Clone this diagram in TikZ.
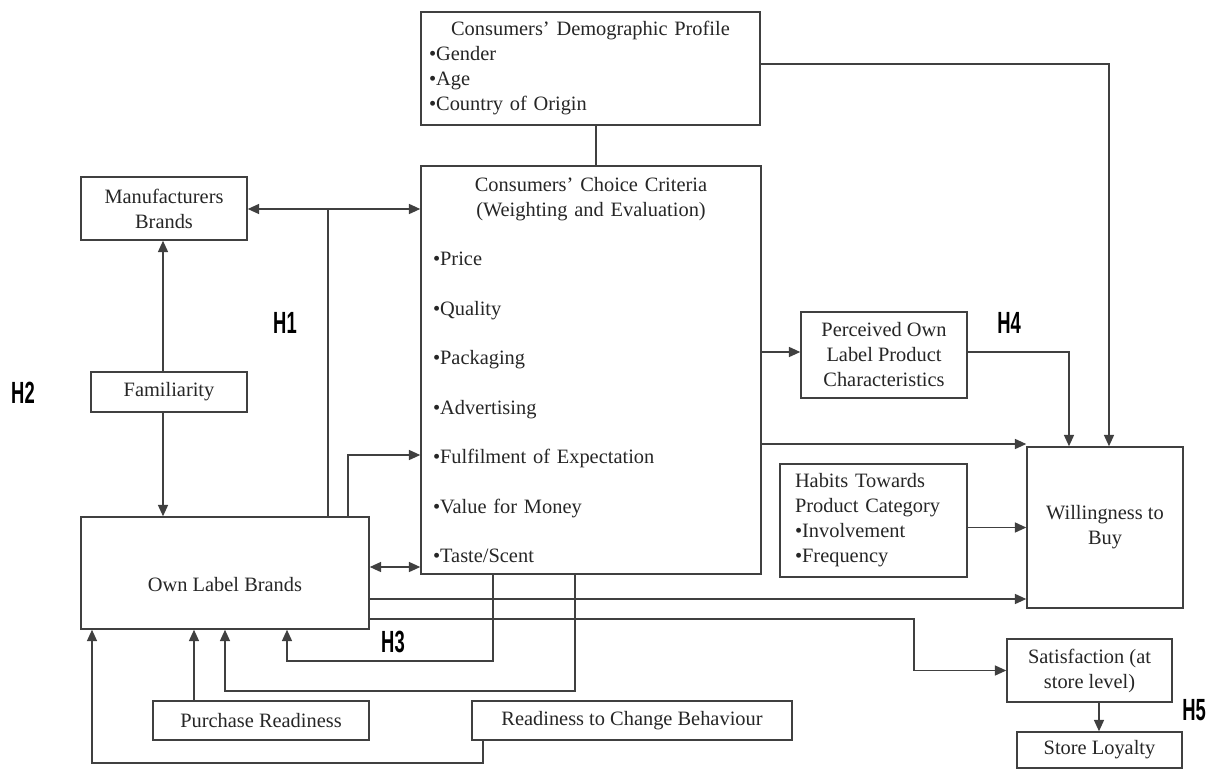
\documentclass[tikz,border=0pt]{standalone}
\usepackage{fontspec}
\setmainfont{Liberation Serif}
\newfontfamily\hfont{Liberation Sans}
\usetikzlibrary{arrows.meta}
\begin{document}
\begin{tikzpicture}[x=0.75pt,y=-0.75pt,
  every node/.style={inner sep=0pt, text=black!85, font=\fontsize{15.3}{18.75}\selectfont},
  box/.style={draw=black!75, line width=1.1pt, align=center},
  ln/.style={draw=black!75, line width=1.1pt},
  arr/.style={ln, -{Triangle[length=8.5pt,width=7.5pt]}},
  arrb/.style={ln, {Triangle[length=8.5pt,width=7.5pt]}-{Triangle[length=8.5pt,width=7.5pt]}},
  hlab/.style={font=\hfont\bfseries\fontsize{23}{23}\selectfont, text=black}]
\fill[white] (0,0) rectangle (1217,770);
\useasboundingbox (0,0) rectangle (1217,770);

% boxes
\node[box, minimum width=254.25pt, minimum height=84.75pt, text width=242.25pt, inner xsep=6pt, align=left] (demo) at (590.5,68.5)
  {\centering Consumers' Demographic Profile\par\raggedright\textbullet Gender\par\textbullet Age\par\textbullet Country of Origin};
\node[box, minimum width=255pt, minimum height=306pt, text width=237pt, inner xsep=9pt, align=left] (choice) at (591,370)
  {\centering Consumers' Choice Criteria\\(Weighting and Evaluation)\par
   \setlength{\parskip}{18.4pt}\raggedright
   \textbullet Price\par\textbullet Quality\par\textbullet Packaging\par\textbullet Advertising\par
   \textbullet Fulfilment of Expectation\par\textbullet Value for Money\par\textbullet Taste/Scent};
\node[box, minimum width=124.5pt, minimum height=47.25pt] (manu) at (164,208.5) {Manufacturers\\Brands};
\node[box, minimum width=117pt, minimum height=30pt] (fam) at (169,392) {Familiarity};
\node[box, minimum width=216pt, minimum height=84pt, text height=27pt, text depth=0pt] (own) at (225,573) {Own Label Brands};
\node[box, minimum width=162pt, minimum height=29.25pt] (purch) at (261,720.5) {Purchase Readiness};
\node[box, minimum width=240pt, minimum height=29.25pt] (ready) at (632,720.5) {Readiness to Change Behaviour};
\node[box, minimum width=124.5pt, minimum height=64.5pt] (perc) at (884,355) {Perceived Own\\Label Product\\Characteristics};
\node[box, minimum width=140.25pt, minimum height=84.75pt, text width=117.75pt, inner xsep=11.25pt, align=left] (habits) at (873.5,520.5)
  {Habits Towards\\Product Category\\\textbullet Involvement\\\textbullet Frequency};
\node[box, minimum width=117pt, minimum height=120.75pt] (will) at (1105,527.5) {Willingness to\\Buy};
\node[box, minimum width=123.75pt, minimum height=47.25pt] (sat) at (1089.5,670.5) {Satisfaction (at\\store level)};
\node[box, minimum width=123.75pt, minimum height=27pt] (loyal) at (1099.5,750) {Store Loyalty};

% hypothesis labels
\node[hlab] (h1) at (285,323) {\scalebox{0.6}[1]{H1}};
\node[hlab] (h2) at (23,393) {\scalebox{0.6}[1]{H2}};
\node[hlab] (h3) at (393,642) {\scalebox{0.6}[1]{H3}};
\node[hlab] (h4) at (1009,323) {\scalebox{0.6}[1]{H4}};
\node[hlab] (h5) at (1194,710) {\scalebox{0.6}[1]{H5}};

% connectors
\draw[arr] (demo.east |- 0,64) -| (will.north -| 1109,0);
\draw[ln] (demo.south -| 596,0) -- (choice.north -| 596,0);
\draw[arrb] (manu.east |- 0,209) -- (choice.west |- 0,209);
\draw[ln] (own.north -| 328,0) -- (328,209);
\draw[arr] (fam.north -| 163,0) -- (manu.south -| 163,0);
\draw[arr] (fam.south -| 163,0) -- (own.north -| 163,0);
\draw[arr] (own.north -| 348,0) |- (choice.west |- 0,455);
\draw[arrb] (own.east |- 0,567) -- (choice.west |- 0,567);
\draw[arr] (own.east |- 0,599) -- (will.west |- 0,599);
\draw[arr] (own.east |- 0,619) -| (914,0 |- sat.west) -- (sat.west);
\draw[arr] (choice.south -| 493,0) |- (287,661) -- (own.south -| 287,0);
\draw[arr] (choice.south -| 575,0) |- (225,691) -- (own.south -| 225,0);
\draw[arr] (purch.north -| 194,0) -- (own.south -| 194,0);
\draw[arr] (ready.south -| 483,0) |- (92,763) -- (own.south -| 92,0);
\draw[arr] (choice.east |- 0,352) -- (perc.west |- 0,352);
\draw[arr] (perc.east |- 0,352) -| (will.north -| 1069,0);
\draw[arr] (choice.east |- 0,444) -- (will.west |- 0,444);
\draw[arr] (habits.east |- will.west) -- (will.west);
\draw[arr] (sat.south -| 1099,0) -- (loyal.north -| 1099,0);
\end{tikzpicture}
\end{document}
